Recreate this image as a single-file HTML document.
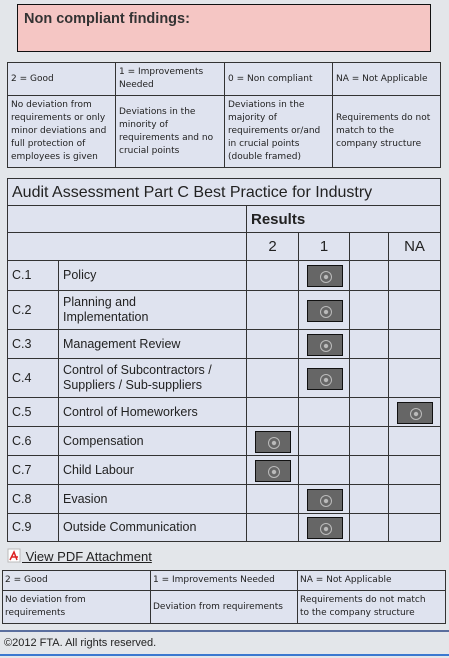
<!DOCTYPE html>
<html><head><meta charset="utf-8"><style>
*{box-sizing:border-box;margin:0;padding:0}
body{width:449px;height:658px;background:#e3e6ea;font-family:"Liberation Sans",sans-serif;color:#222;position:relative;overflow:hidden}
.a{position:absolute}
.c{position:absolute;border:1px solid #333;background:#dfe3ef;font-size:12px;display:flex;align-items:center;padding-left:4px;line-height:15px;white-space:pre-line}
.s{font-family:"DejaVu Sans",sans-serif;font-size:9px;line-height:13px}
.btn{position:absolute;width:36px;height:22px;background:#666;border:1px solid #111}
.btn:after{content:"";position:absolute;left:12px;top:5px;width:10px;height:10px;border:1px solid #bbb;border-radius:50%;background:radial-gradient(#bbb 25%,transparent 35%)}
</style></head><body>
<div class="a" style="left:17px;top:4px;width:414px;height:48px;background:#f5c6c4;border:1px solid #111;padding:6px 6px;font-weight:bold;font-size:14.5px;color:#333">Non compliant findings:</div>
<div id="legend1"></div>
<div id="main"></div>
<div class="a" style="left:7px;top:548px;font-size:13px;text-decoration:underline;color:#222">
<svg width="15" height="15" style="vertical-align:-2px"><rect x="1" y="1" width="12" height="13" fill="#fff" stroke="#bbb"/><path d="M3 12 L7 4 L10 12 M4 9 L11 9" stroke="#d22" fill="none" stroke-width="1.5"/></svg> View PDF Attachment</div>
<div id="legend2"></div>
<div class="a" style="left:0;top:630px;width:449px;height:26px;border-top:2px solid #5a6e9e;border-bottom:2px solid #3a78d0;background:#e3e6ea;font-size:11px;padding:5px 4px">©2012 FTA. All rights reserved.</div>
<script>
const categories=["C.1","C.2","C.3","C.4","C.5","C.6","C.7","C.8","C.9"];
const labels=["Policy","Planning and\nImplementation","Management Review","Control of Subcontractors /\nSuppliers / Sub-suppliers","Control of Homeworkers","Compensation","Child Labour","Evasion","Outside Communication"];
const ratings=["1","1","1","1","NA","2","2","1","1"];
const ratingCols=["2","1","0","NA"];
const colHeads=["2","1","","NA"];
function cell(p,x,y,w,h,t,cls,name,st){const d=document.createElement('div');d.className='c '+(cls||'');


d.style.cssText+=`left:${x}px;top:${y}px;width:${w+1}px;height:${h+1}px;`+(st||'');d.textContent=t;p.appendChild(d);return d;}
const L1=document.getElementById('legend1');
const lx=[7,115,224,332,440];
const l1h=["2 = Good","1 = Improvements\nNeeded","0 = Non compliant","NA = Not Applicable"];
const l1d=["No deviation from\nrequirements or only\nminor deviations and\nfull protection of\nemployees is given","Deviations in the\nminority of\nrequirements and no\ncrucial points","Deviations in the\nmajority of\nrequirements or/and\nin crucial points\n(double framed)","Requirements do not\nmatch to the\ncompany structure"];
for(let i=0;i<4;i++){cell(L1,lx[i],62,lx[i+1]-lx[i],33,l1h[i],'s','legend-heading',"padding-left:3px");cell(L1,lx[i],95,lx[i+1]-lx[i],72,l1d[i],'s','legend-description',"padding-left:3px");}
const M=document.getElementById('main');
const cx=[7,58,246,298,349,388,440];
cell(M,7,178,433,27,"Audit Assessment Part C Best Practice for Industry","",'table-title',"font-size:16px");
cell(M,7,205,239,27,"","",'header-blank');
cell(M,246,205,194,27,"Results","",'results-header',"font-size:15px;font-weight:bold");
cell(M,7,232,239,28,"","",'header-blank');
for(let j=0;j<4;j++)cell(M,cx[j+2],232,cx[j+3]-cx[j+2],28,colHeads[j],"",'rating-column-header',"justify-content:center;padding:0;font-size:15px");
const rh=[30,39,29,39,29,29,29,29,28];
let y=260;
for(let i=0;i<categories.length;i++){const h=rh[i];
cell(M,7,y,51,h,categories[i],"",'row-code',"font-size:12.5px");
cell(M,58,y,188,h,labels[i],"",'row-label',"font-size:12.5px");
for(let j=0;j<4;j++){const c=cell(M,cx[j+2],y,cx[j+3]-cx[j+2],h,"","",'rating-cell');
if(ratings[i]===ratingCols[j]){const b=document.createElement('div');b.className='btn';


b.style.left=((cx[j+3]-cx[j+2])/2-18)+'px';b.style.top=(h/2-11)+'px';c.style.padding='0';c.appendChild(b);}}
y+=h;}
const L2=document.getElementById('legend2');
const bx=[2,150,297,445];
const l2h=["2 = Good","1 = Improvements Needed","NA = Not Applicable"];
const l2d=["No deviation from\nrequirements","Deviation from requirements","Requirements do not match\nto the company structure"];
for(let i=0;i<3;i++){cell(L2,bx[i],570,bx[i+1]-bx[i],20,l2h[i],'s','legend-heading',"padding-left:2px");cell(L2,bx[i],590,bx[i+1]-bx[i],33,l2d[i],'s','legend-description',"padding-left:2px");}
</script>
</body></html>
